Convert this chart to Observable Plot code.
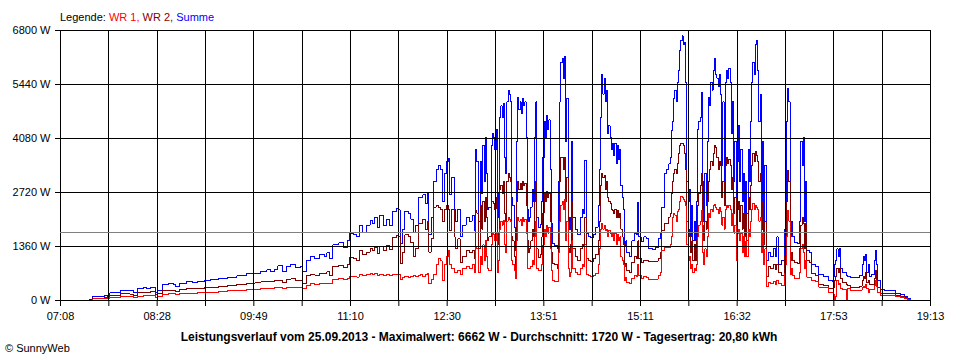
<!DOCTYPE html>
<html><head><meta charset="utf-8">
<script src="https://cdn.jsdelivr.net/npm/d3@7"></script>
<script src="https://cdn.jsdelivr.net/npm/@observablehq/plot@0.6"></script>
<style>body{margin:0;background:#fff;} svg{display:block}</style>
</head><body><div id="chart"></div>
<script>
// Tick labels and reference values
const xLabels = ["07:08","08:28","09:49","11:10","12:30","13:51","15:11","16:32","17:53","19:13"];
const yTicks = [0,1360,2720,4080,5440,6800];
const average = 1720;
const legendParts = ["Legende: ", "WR 1,", " WR 2,", " Summe"];
const titleText = "Leistungsverlauf vom 25.09.2013 - Maximalwert: 6662 W - Durchschnitt: 1720 W - Tagesertrag: 20,80 kWh";

// time in minutes since midnight
const times = [
440,443,452,455,460,465,467,469,475,478,
486,489,492,497,500,503,507,509,513,518,
522,524,527,533,538,542,548,553,560,567,
575,583,590,595,600,603,606,609,613,616,
620,624,628,630,633,636,640,644,648,650,
652,655,660,664,667,669,672,675,677,680,
683,686,688,690,692,694,697,700,702,705,
708,710,711,713,715,718,720,722,724,726,
728,730,732,734,735,737,739,741,743,745,
746,748,750,751,752,754,756,757,759,761,
763,766,769,771,773,774,775,776,778,779,
780,781,782,783,784,785,787,788,789,790,
791,792,793,794,795,796,797,798,799,800,
801,802,803,804,805,806,807,808,809,810,
811,812,813,814,815,816,817,818,819,820,
821,822,823,824,825,826,828,829,830,831,
832,833,834,835,836,837,838,840,842,843,
844,845,846,847,848,849,850,851,852,853,
854,855,857,859,861,863,864,865,866,868,
870,872,874,876,877,878,879,880,881,882,
883,884,885,886,887,888,889,890,891,892,
893,894,895,896,897,898,899,900,902,904,
906,908,909,910,912,914,916,918,921,924,
926,928,929,931,933,935,936,937,938,939,
940,941,942,943,944,945,946,947,948,949,
950,951,952,953,954,955,956,957,958,959,
960,961,962,963,964,965,966,967,968,969,
970,971,972,973,974,975,976,977,978,979,
980,981,982,983,984,985,986,987,988,989,
990,991,992,993,994,995,996,997,998,999,
1000,1001,1002,1003,1004,1005,1006,1007,1008,1009,
1010,1011,1012,1013,1014,1015,1016,1018,1020,1022,
1024,1025,1026,1029,1031,1032,1033,1034,1035,1036,
1037,1038,1040,1042,1044,1045,1046,1047,1048,1049,
1050,1052,1054,1057,1060,1064,1068,1071,1072,1073,
1074,1075,1076,1077,1078,1080,1083,1084,1086,1090,
1094,1096,1097,1098,1099,1100,1101,1102,1104,1106,
1107,1108,1109,1111,1115,1120,1124,1128,1131,1134,
1136];

// Summe (W)
const summe = [
0,10,20,100,110,130,110,190,200,250,
240,200,300,320,290,330,210,260,400,420,
400,350,440,470,450,490,500,520,560,590,
620,670,690,740,770,720,790,870,720,860,
910,830,850,720,1000,1120,1060,1150,1100,1200,
1050,1400,1450,1330,1500,1680,1650,1600,1880,1720,
1900,2020,1950,2100,1850,2150,1900,2050,1880,2250,
2310,2280,1430,1800,2250,2200,2050,1720,1900,2600,
2600,2660,2450,2700,1650,2080,3000,3300,3400,3300,
2500,3200,3500,3570,2660,3100,2300,2000,2300,1600,
1900,2100,2000,2150,1760,3800,3500,2000,3500,2700,
3900,3000,4100,3200,2300,2350,3900,4200,4100,3800,
4300,2100,2700,4600,4900,4600,4960,3600,3200,5000,
5290,5200,5000,2600,2400,1850,1260,4000,5120,4800,
5000,4700,5100,4900,5000,4100,2300,2000,2100,2350,
2800,2500,4100,5000,2100,1840,1910,2500,3600,4500,
4100,4650,4300,4550,3300,1950,1430,1380,1300,3000,
5000,6000,6100,5600,6150,4000,5100,2100,1800,2100,
4000,2100,1800,1650,2100,2300,2200,3530,1700,1600,
1580,1650,1850,2400,3300,4600,5700,5200,5600,5000,
5300,4200,4400,4100,3800,3950,3650,3950,3450,3900,
3550,3800,2900,2600,2300,1350,1500,1200,1100,1500,
1700,1650,2470,1600,1480,1600,1550,1320,1280,1330,
1550,1700,2340,3200,3300,3440,3600,4280,4500,5100,
5300,5000,5500,5800,6300,6550,6662,6450,6500,5500,
3000,2500,2800,1600,2400,1500,2000,1500,2500,4300,
4500,4600,5240,3000,2000,3200,2400,4000,5120,4900,
5500,5300,5800,6100,5700,5600,5400,5700,5200,3400,
5000,3000,5500,5800,5600,5850,5500,4200,5000,3000,
4000,2000,3500,4400,3000,3800,2500,3200,2200,3000,
2200,3800,3000,4500,5500,6000,5700,6450,6550,5800,
4500,5200,2500,4000,1800,3400,1000,1200,1100,1300,
1100,1600,900,1000,1800,2500,4500,5330,5000,1600,
2000,1600,1450,1430,2000,4000,3400,4100,2000,3000,
1250,1200,900,850,650,600,500,480,600,900,
1000,1300,1100,1300,800,700,620,600,570,570,
620,900,1100,1000,1160,700,900,600,650,1000,
1260,900,500,270,260,240,180,150,110,50,
0];

// WR 2 (W)
const wr2 = [
0,5,10,50,60,70,60,120,130,165,
160,130,200,210,200,215,150,170,250,255,
250,220,280,300,290,305,315,330,355,375,
400,435,445,470,480,470,495,500,450,520,
545,500,510,430,620,660,640,690,680,720,
640,850,880,820,900,1090,1060,1000,1260,1150,
1220,1300,1250,1330,1190,1350,1250,1380,1280,1580,
1640,1620,920,1200,1650,1600,1450,1100,1300,1930,
1950,2050,1800,2000,1220,1560,2350,2400,2350,2300,
2000,2300,2400,2300,1760,2300,1600,1300,1550,950,
1100,1250,1200,1250,1050,2270,2200,1300,2400,1800,
2500,2000,2600,2100,1500,1600,2500,2500,2450,2300,
2600,1400,1700,2800,2900,2700,3000,2200,2000,3000,
3190,3100,3000,1600,1500,1100,700,2500,3000,2800,
2950,2800,3000,2900,2950,2400,1500,1200,1300,1500,
1800,1600,2500,3000,1300,1090,1150,1600,2200,2700,
2500,2750,2600,2700,2000,1200,930,900,800,1760,
3000,3600,3600,3300,3600,2500,3100,1300,1200,1400,
2500,1300,1100,1000,1300,1400,1350,2100,1050,1000,
980,1050,1150,1500,2000,2900,3200,3100,3150,2800,
3000,2600,2500,2440,2300,2270,2200,2300,2100,2270,
2100,2200,1800,1600,1400,850,930,760,700,950,
1100,1050,1500,1050,950,1000,1000,980,970,990,
1050,1200,1760,1950,1950,2100,2200,2700,3000,3190,
3300,3200,3440,3700,3900,3960,3950,3900,3700,3300,
2000,1800,1600,1200,1500,1000,1400,1000,1500,2400,
2700,2900,3190,1900,1500,2000,1800,2500,3000,3300,
3500,3400,3700,3900,3850,3600,3300,3500,3400,2600,
3000,2400,3400,3600,3450,3550,3400,2800,3100,2200,
2600,1600,2300,2500,2000,2400,1800,2200,1600,2200,
1500,2600,2300,2900,3400,3700,3500,3750,3650,3500,
3000,3200,1800,2500,1400,2000,600,850,800,900,
780,900,700,620,1100,1500,2500,3270,3000,1000,
1200,1000,950,920,1300,1900,2100,1950,1300,1930,
1000,950,670,640,400,380,300,300,320,500,
600,800,700,800,550,450,400,380,340,340,
360,500,600,550,700,450,500,400,400,550,
755,500,330,180,180,170,120,100,80,30,
0];

// WR 1 (W)
const wr1 = [
0,5,10,40,50,60,50,70,75,95,
90,80,110,120,115,125,70,100,160,170,
165,140,175,180,175,190,200,210,225,240,
255,270,280,300,310,300,320,325,290,330,
340,330,335,300,380,420,410,430,430,440,
420,530,550,520,560,600,600,590,650,620,
660,670,650,680,640,660,630,650,620,660,
660,650,540,580,600,590,600,620,600,640,
660,610,650,680,420,520,650,900,1050,1000,
500,900,1100,1270,900,800,700,700,750,650,
800,850,800,900,700,1340,1300,700,1100,900,
1400,1000,1500,1100,800,750,1400,1700,1650,1500,
1700,700,1000,1800,2000,1900,2015,1400,1200,2000,
2100,2050,2000,1000,900,750,560,1500,2100,2000,
2050,1900,2100,2000,2050,1700,800,800,800,850,
1000,900,1600,2000,800,750,760,900,1400,1800,
1600,1900,1700,1850,1300,750,500,480,480,1200,
2000,2400,2500,2300,2550,1500,2000,800,600,700,
1500,800,700,650,800,900,850,1400,650,620,
600,620,680,900,1300,1800,1940,1800,1900,1760,
1800,1600,1760,1700,1600,1700,1500,1700,1400,1650,
1500,1600,1100,1000,900,500,570,450,420,560,
620,600,900,620,560,600,590,530,520,540,
620,700,1260,1340,1340,1340,1400,1600,2100,2200,
2150,2000,2250,2300,2500,2620,2600,2550,2500,2400,
1400,1000,1100,800,900,700,800,760,900,1600,
1900,2000,2260,1200,900,1300,1100,1600,2200,2100,
2300,2250,2400,2420,2350,2300,2200,2350,2250,1900,
2100,1800,2300,2400,2350,2400,2300,1900,2200,1700,
1900,1000,1700,1800,1500,1700,1200,1600,1100,1500,
1100,1800,1600,2000,2300,2450,2300,2400,2350,2300,
2000,2100,1200,1700,900,1300,360,450,420,480,
400,500,420,380,680,900,1600,2270,2000,650,
800,620,560,550,700,1300,1400,1200,800,1000,
590,570,500,480,340,320,200,200,150,0,
100,500,400,420,300,280,0,300,250,250,
260,320,350,330,400,300,200,280,280,380,
500,350,200,130,125,120,90,80,60,20,
0];

const tStart = 428, tEnd = 1153; // 07:08 .. 19:13
const gridTimes = d3.range(19).map(k => tStart + k * (tEnd - tStart) / 18);
const labelAt = new Map(gridTimes.filter((d, k) => k % 2 === 0).map((d, i) => [d, xLabels[i]]));

const n = Math.min(times.length, summe.length, wr1.length, wr2.length);
const data = d3.range(n).map(i => ({t: times[i], summe: summe[i], wr1: wr1[i], wr2: wr2[i]}));

const font = "'Liberation Sans', Arial, sans-serif";
const lineOpts = {x: "t", strokeWidth: 1, curve: "step-after", shapeRendering: "crispEdges"};
const chart = Plot.plot({
  width: 960, height: 360,
  marginLeft: 60, marginRight: 30, marginTop: 30, marginBottom: 60,
  style: {fontFamily: font, fontSize: "11px", background: "#fff", color: "#000", overflow: "visible"},
  x: {domain: [tStart, tEnd], label: null},
  y: {domain: [0, 6800], label: null},
  marks: [
    Plot.lineY(data, {...lineOpts, y: "summe", stroke: "#0000ff"}),
    Plot.lineY(data, {...lineOpts, y: "wr2", stroke: "#800000"}),
    Plot.lineY(data, {...lineOpts, y: "wr1", stroke: "#ff0000"}),
    Plot.gridX(gridTimes, {stroke: "#000", strokeOpacity: 1, strokeWidth: 1, shapeRendering: "crispEdges"}),
    Plot.gridY(yTicks, {stroke: "#000", strokeOpacity: 1, strokeWidth: 1, shapeRendering: "crispEdges"}),
    Plot.ruleY([average], {stroke: "#808080", strokeWidth: 1, shapeRendering: "crispEdges"}),
    Plot.axisX(gridTimes, {tickSize: 6, tickPadding: 6, label: null, tickFormat: d => labelAt.get(d) ?? "", fontSize: 11}),
    Plot.axisY(yTicks, {tickSize: 5, tickPadding: 5, label: null, tickFormat: d => d + " W", fontSize: 11})
  ]
});
document.getElementById("chart").appendChild(chart);

const svg = d3.select(chart);
const legend = svg.append("text").attr("x", 60).attr("y", 21).attr("text-anchor", "start")
  .attr("font-family", font).attr("font-size", 11).style("white-space", "pre");
const legendColors = ["#000000", "#ff0000", "#800000", "#0000ff"];
legendParts.forEach((p, i) => legend.append("tspan").attr("fill", legendColors[i]).text(p));

svg.append("text").attr("x", 479).attr("y", 341).attr("text-anchor", "middle")
  .attr("font-family", font).attr("font-size", 12).attr("font-weight", "bold").attr("fill", "#000")
  .text(titleText);

svg.append("text").attr("x", 5).attr("y", 352).attr("text-anchor", "start")
  .attr("font-family", font).attr("font-size", 11).attr("fill", "#000")
  .text("© SunnyWeb");
</script>
</body></html>
